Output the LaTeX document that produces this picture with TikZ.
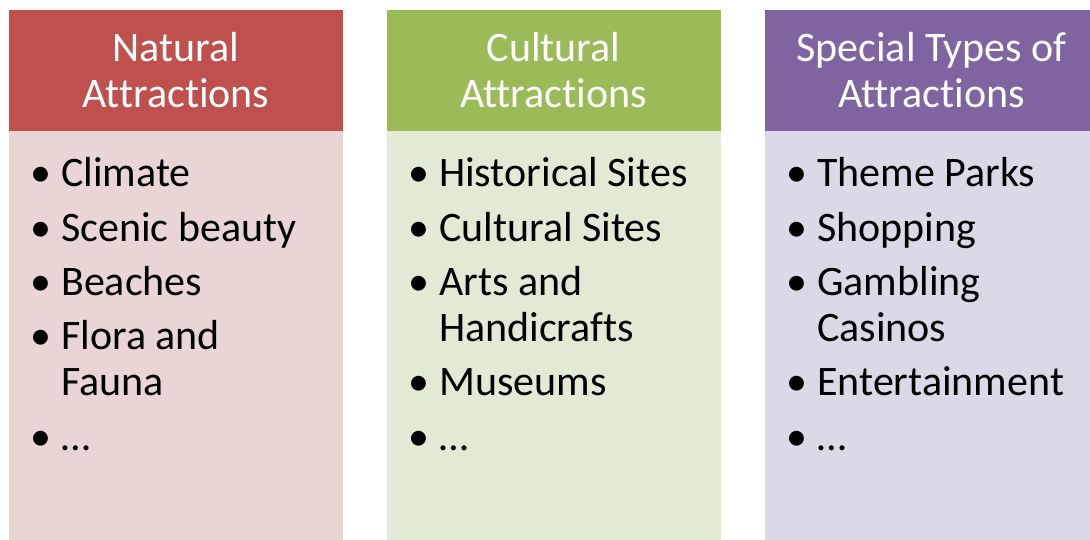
\documentclass[tikz,border=0pt]{standalone}
\usepackage{fontspec}
\setmainfont{Carlito}[Ligatures=NoCommon]
\usetikzlibrary{positioning}

\definecolor{natred}{HTML}{C0504D}
\definecolor{natpink}{RGB}{234,213,213}
\definecolor{culgreen}{HTML}{9BBB59}
\definecolor{culpale}{RGB}{226,234,213}
\definecolor{spcpurple}{HTML}{8064A2}
\definecolor{spcpale}{RGB}{221,216,232}

\newcommand{\bul}{\makebox[31pt][l]{\textbullet}}

\tikzset{
  head/.style={minimum width=334pt, minimum height=121pt, inner sep=0pt,
    text=white, align=center, font=\fontsize{42}{46}\selectfont},
  body/.style={minimum width=334pt, minimum height=410pt, inner sep=0pt},
  itm/.style={anchor=base west, inner sep=0pt, align=left,
    font=\fontsize{42}{46}\selectfont}
}

\begin{document}
\begin{tikzpicture}[x=1pt,y=-1pt]
  \useasboundingbox (0,0) rectangle (1090,539);

  % column boxes
  \node[head, fill=natred] (natHead) at (176,70.5) {Natural\\Attractions};
  \node[body, fill=natpink, below=0pt of natHead] (natBody) {};
  \node[head, fill=culgreen] (culHead) at (553.5,70.5) {Cultural\\Attractions};
  \node[body, fill=culpale, below=0pt of culHead] (culBody) {};
  \node[head, fill=spcpurple] (spcHead) at (931.5,70.5) {Special Types of\\Attractions};
  \node[body, fill=spcpale, below=0pt of spcHead] (spcBody) {};

  % natural (two-line items sit on their last line)
  \node[itm] (nat1) at (30,186) {\bul Climate};
  \node[itm] (nat2) at (30,241) {\bul Scenic beauty};
  \node[itm] (nat3) at (30,295) {\bul Beaches};
  \node[itm] (nat4) at (30,395) {\bul Flora and\\\hspace*{31pt}Fauna};
  \node[itm] (nat5) at (30,450) {\bul \dots};

  % cultural
  \node[itm] (cul1) at (408,186) {\bul Historical Sites};
  \node[itm] (cul2) at (408,241) {\bul Cultural Sites};
  \node[itm] (cul3) at (408,341) {\bul Arts and\\\hspace*{31pt}Handicrafts};
  \node[itm] (cul4) at (408,395) {\bul Museums};
  \node[itm] (cul5) at (408,450) {\bul \dots};

  % special types
  \node[itm] (spc1) at (786,186) {\bul Theme Parks};
  \node[itm] (spc2) at (786,241) {\bul Shopping};
  \node[itm] (spc3) at (786,341) {\bul Gambling\\\hspace*{31pt}Casinos};
  \node[itm] (spc4) at (786,395) {\bul Entertainment};
  \node[itm] (spc5) at (786,450) {\bul \dots};
\end{tikzpicture}
\end{document}
